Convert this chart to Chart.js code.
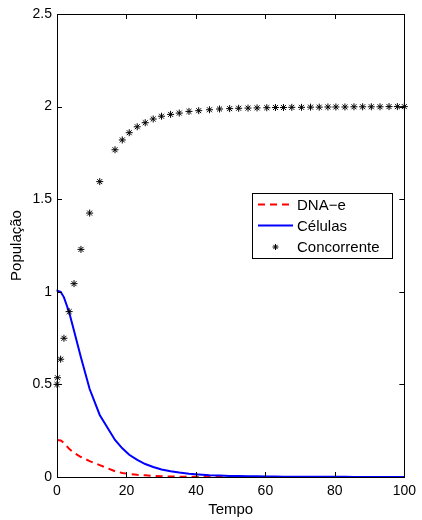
<!DOCTYPE html>
<html>
<head>
<meta charset="utf-8">
<script src="https://cdn.jsdelivr.net/npm/chart.js@4/dist/chart.umd.min.js"></script>
<style>
  html, body { margin: 0; padding: 0; background: #fff; }
  #wrap { width: 422px; height: 520px; }
</style>
</head>
<body>
<div id="wrap"><canvas id="grafico" width="422" height="520"></canvas></div>
<script>
'use strict';

// Solver time points (shared by the three series)
const tempo = [0, 0.15, 1.05, 2.0, 3.5, 4.9, 6.9, 9.4, 12.3, 16.7, 18.8, 20.8, 23.1, 25.4, 27.7,
    30.1, 32.7, 35.2, 38.0, 40.8, 43.9, 46.8, 49.7, 52.3, 55.0, 57.6, 60.4, 62.9, 65.2, 67.6,
    70.4, 73.0, 75.5, 78.0, 80.3, 82.9, 85.5, 88.0, 90.5, 93.0, 95.6, 98.0, 100];

const dnaE = [0.2, 0.2, 0.197, 0.185, 0.152, 0.13, 0.108, 0.086, 0.064, 0.031, 0.022, 0.016, 0.012,
    0.009, 0.006, 0.004, 0.003, 0.002, 0.0015, 0.001, 0.0008, 0.0006, 0.0005, 0.0004, 0.0003,
    0.0003, 0.0002, 0.0002, 0.0002, 0.0001, 0.0001, 0.0001, 0.0001, 0.0001, 0, 0, 0, 0, 0, 0, 0, 0, 0];

const celulas = [1.0, 1.005, 1.0, 0.97, 0.89, 0.79, 0.645, 0.475, 0.335, 0.2, 0.155, 0.12, 0.092,
    0.07, 0.054, 0.041, 0.031, 0.024, 0.018, 0.014, 0.010, 0.008, 0.006, 0.005, 0.004, 0.0035,
    0.003, 0.0025, 0.002, 0.0017, 0.0015, 0.0012, 0.001, 0.0009, 0.0008, 0.0007, 0.0006, 0.0005,
    0.0005, 0.0004, 0.0004, 0.0003, 0.0003];

const concorrente = [0.5, 0.536, 0.636, 0.749, 0.893, 1.044, 1.229, 1.425, 1.595, 1.767, 1.82,
    1.859, 1.891, 1.913, 1.933, 1.948, 1.958, 1.965, 1.974, 1.978, 1.983, 1.987, 1.989, 1.991,
    1.992, 1.993, 1.994, 1.995, 1.995, 1.996, 1.996, 1.997, 1.997, 1.998, 1.998, 1.998, 1.999,
    1.999, 1.999, 1.999, 2.0, 2.0, 2.0];

const xTicks = [0, 20, 40, 60, 80, 100];
const yTicks = [0, 0.5, 1, 1.5, 2, 2.5];

const legendLabels = ['DNA\u2212e', 'Células', 'Concorrente'];

const FONT = 'Liberation Sans, Arial, Helvetica, sans-serif';

function toPoints(values) {
    return tempo.map((t, i) => ({ x: t, y: values[i] }));
}

// Inward MATLAB-style ticks and the axes box
const boxPlugin = {
    id: 'boxPlugin',
    afterDatasetsDraw(chart) {
        const { ctx, chartArea: a, scales } = chart;
        const len = 5;
        ctx.save();
        ctx.strokeStyle = '#000';
        ctx.lineWidth = 1;
        ctx.beginPath();
        xTicks.forEach(v => {
            const px = Math.round(scales.x.getPixelForValue(v)) + 0.5;
            ctx.moveTo(px, a.bottom); ctx.lineTo(px, a.bottom - len);
            ctx.moveTo(px, a.top); ctx.lineTo(px, a.top + len);
        });
        yTicks.forEach(v => {
            const py = Math.round(scales.y.getPixelForValue(v)) + 0.5;
            ctx.moveTo(a.left, py); ctx.lineTo(a.left + len, py);
            ctx.moveTo(a.right, py); ctx.lineTo(a.right - len, py);
        });
        ctx.stroke();
        ctx.strokeRect(Math.round(a.left) + 0.5, Math.round(a.top) + 0.5,
            Math.round(a.right - a.left), Math.round(a.bottom - a.top));
        ctx.restore();
    },
    afterDraw(chart) {
        // legend box inside the axes
        const { ctx } = chart;
        const bx = 252, by = 193, bw = 140, bh = 65;
        ctx.save();
        ctx.fillStyle = '#fff';
        ctx.fillRect(bx, by, bw, bh);
        ctx.strokeStyle = '#000';
        ctx.lineWidth = 1;
        ctx.strokeRect(bx + 0.5, by + 0.5, bw, bh);
        const rows = [204.5, 225.5, 247];
        ctx.font = '15px ' + FONT;
        ctx.textBaseline = 'middle';
        ctx.fillStyle = '#000';
        // DNA-e sample
        ctx.strokeStyle = '#ff0000';
        ctx.lineWidth = 2;
        ctx.setLineDash([7, 5]);
        ctx.beginPath(); ctx.moveTo(258, rows[0]); ctx.lineTo(293, rows[0]); ctx.stroke();
        ctx.setLineDash([]);
        // Células sample
        ctx.strokeStyle = '#0000ff';
        ctx.beginPath(); ctx.moveTo(258, rows[1]); ctx.lineTo(293, rows[1]); ctx.stroke();
        // Concorrente sample (asterisk)
        ctx.strokeStyle = '#000';
        ctx.lineWidth = 1;
        const cx = 275.5, cy = rows[2], r = 3;
        ctx.beginPath();
        ctx.moveTo(cx - r, cy); ctx.lineTo(cx + r, cy);
        ctx.moveTo(cx, cy - r); ctx.lineTo(cx, cy + r);
        ctx.moveTo(cx - r * 0.7, cy - r * 0.7); ctx.lineTo(cx + r * 0.7, cy + r * 0.7);
        ctx.moveTo(cx - r * 0.7, cy + r * 0.7); ctx.lineTo(cx + r * 0.7, cy - r * 0.7);
        ctx.stroke();
        legendLabels.forEach((txt, i) => ctx.fillText(txt, 297, rows[i] + 1));
        ctx.restore();
    }
};

new Chart(document.getElementById('grafico'), {
    type: 'line',
    data: {
        datasets: [{
            label: legendLabels[0],
            data: toPoints(dnaE),
            borderColor: '#ff0000',
            borderWidth: 2,
            borderDash: [7, 5],
            pointRadius: 0,
            fill: false,
            tension: 0,
            clip: false,
            order: 3
        }, {
            label: legendLabels[1],
            data: toPoints(celulas),
            borderColor: '#0000ff',
            borderWidth: 2,
            pointRadius: 0,
            fill: false,
            tension: 0,
            clip: false,
            order: 2
        }, {
            label: legendLabels[2],
            data: toPoints(concorrente),
            showLine: false,
            pointStyle: 'star',
            pointRadius: 3.5,
            pointBorderColor: '#000',
            pointBackgroundColor: '#000',
            pointBorderWidth: 1,
            clip: false,
            order: 1
        }]
    },
    options: {
        responsive: false,
        animation: false,
        devicePixelRatio: 1,
        layout: { padding: { top: 14, right: 14, left: 0, bottom: 0 } },
        plugins: {
            legend: { display: false },
            tooltip: { enabled: false }
        },
        scales: {
            x: {
                type: 'linear',
                min: 0,
                max: 100,
                afterFit: s => { s.height = 43; },
                afterBuildTicks: s => { s.ticks = xTicks.map(v => ({ value: v })); },
                grid: { display: false, drawTicks: false },
                border: { display: false },
                ticks: {
                    color: '#000',
                    padding: 6,
                    font: { family: FONT, size: 14 },
                    callback: v => String(v)
                },
                title: {
                    display: true,
                    text: 'Tempo',
                    color: '#000',
                    padding: { top: 0, bottom: 1 },
                    font: { family: FONT, size: 15 }
                }
            },
            y: {
                type: 'linear',
                min: 0,
                max: 2.5,
                afterFit: s => { s.width = 57; },
                afterBuildTicks: s => { s.ticks = yTicks.map(v => ({ value: v })); },
                grid: { display: false, drawTicks: false },
                border: { display: false },
                ticks: {
                    color: '#000',
                    padding: 5,
                    font: { family: FONT, size: 14 },
                    callback: v => String(v)
                },
                title: {
                    display: true,
                    text: 'População',
                    color: '#000',
                    padding: { top: 8, bottom: 0 },
                    font: { family: FONT, size: 15 }
                }
            }
        }
    },
    plugins: [boxPlugin]
});
</script>
</body>
</html>
